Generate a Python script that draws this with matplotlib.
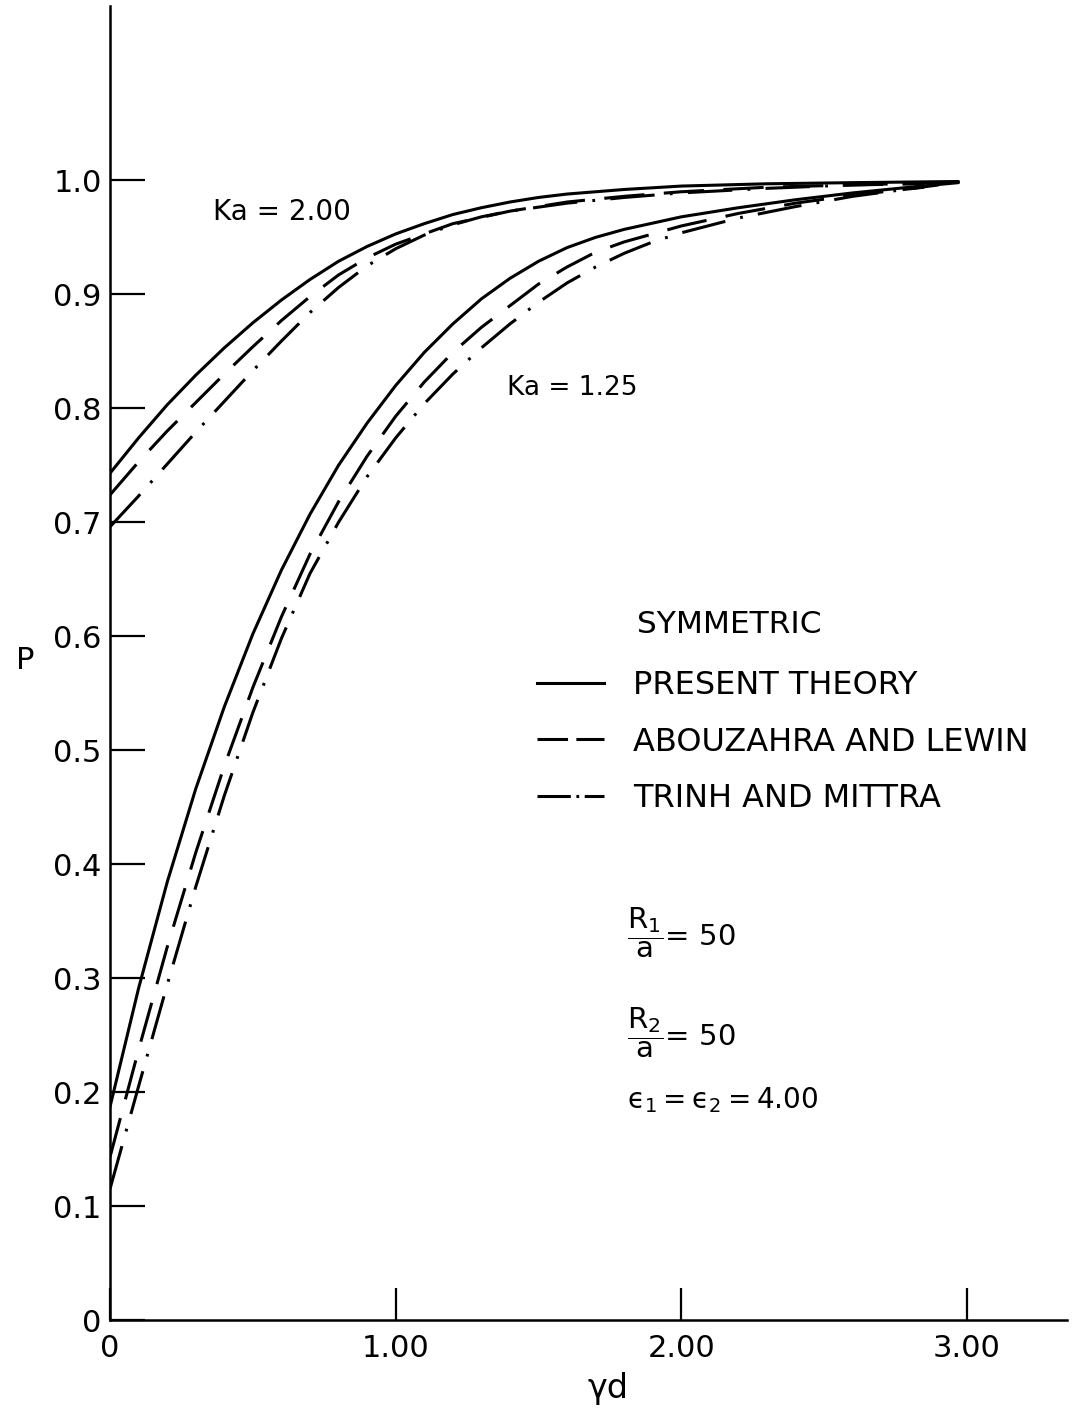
import matplotlib
matplotlib.use("Agg")
import matplotlib.pyplot as plt
from matplotlib.lines import Line2D

plt.rcParams['font.family'] = ['DejaVu Sans']
plt.rcParams['mathtext.fontset'] = 'dejavusans'
plt.rcParams['mathtext.default'] = 'regular'
plt.rcParams['lines.scale_dashes'] = False

# Ka = 2.00 curves
ka2_x_present = [0, 0.1, 0.2, 0.3, 0.4, 0.5, 0.6, 0.7, 0.8, 0.9, 1.0, 1.1, 1.2, 1.3, 1.4, 1.5, 1.6, 1.8, 2.0, 2.3, 2.6, 2.97]
ka2_p_present = [0.743, 0.774, 0.803, 0.829, 0.853, 0.875, 0.895, 0.913, 0.929, 0.942, 0.953, 0.962, 0.970, 0.976,
                 0.981, 0.985, 0.988, 0.992, 0.995, 0.997, 0.998, 0.999]
ka2_x_abou = [0, 0.1, 0.2, 0.3, 0.4, 0.5, 0.6, 0.7, 0.8, 0.9, 1.0, 1.2, 1.4, 1.6, 1.8, 2.0, 2.3, 2.6, 2.85]
ka2_p_abou = [0.724, 0.753, 0.780, 0.805, 0.830, 0.854, 0.877, 0.898, 0.917, 0.932, 0.944, 0.962, 0.973, 0.981,
              0.986, 0.990, 0.994, 0.996, 0.997]
ka2_x_trinh = [0, 0.1, 0.2, 0.3, 0.4, 0.5, 0.6, 0.7, 0.8, 0.9, 1.0, 1.1, 1.2, 1.3, 1.4, 1.6, 1.8, 2.0, 2.3, 2.6, 2.9]
ka2_p_trinh = [0.696, 0.723, 0.751, 0.779, 0.806, 0.833, 0.859, 0.884, 0.906, 0.925, 0.940, 0.952, 0.961, 0.968,
               0.973, 0.980, 0.985, 0.989, 0.993, 0.996, 0.998]

# Ka = 1.25 curves
ka125_x_present = [0, 0.1, 0.2, 0.3, 0.4, 0.5, 0.6, 0.7, 0.8, 0.9, 1.0, 1.1, 1.2, 1.3, 1.4, 1.5, 1.6, 1.7, 1.8,
                   2.0, 2.2, 2.4, 2.6, 2.8, 2.97]
ka125_p_present = [0.187, 0.291, 0.384, 0.466, 0.538, 0.602, 0.658, 0.707, 0.750, 0.787, 0.820, 0.849, 0.874,
                   0.896, 0.914, 0.929, 0.941, 0.950, 0.957, 0.968, 0.976, 0.983, 0.989, 0.994, 0.998]
ka125_x_abou = [0, 0.1, 0.2, 0.3, 0.4, 0.5, 0.6, 0.7, 0.8, 0.9, 1.0, 1.1, 1.2, 1.3, 1.4, 1.5, 1.6, 1.7, 1.8,
                2.0, 2.2, 2.4, 2.6, 2.85]
ka125_p_abou = [0.143, 0.237, 0.327, 0.410, 0.486, 0.555, 0.617, 0.672, 0.718, 0.758, 0.793, 0.823, 0.849,
                0.871, 0.890, 0.909, 0.924, 0.937, 0.946, 0.960, 0.971, 0.980, 0.987, 0.994]
ka125_x_trinh = [0, 0.1, 0.2, 0.3, 0.4, 0.5, 0.6, 0.7, 0.8, 0.9, 1.0, 1.1, 1.2, 1.3, 1.4, 1.5, 1.6, 1.7, 1.8,
                 1.9, 2.0, 2.2, 2.4, 2.6, 2.75, 2.9]
ka125_p_trinh = [0.115, 0.205, 0.294, 0.380, 0.460, 0.533, 0.598, 0.655, 0.700, 0.740, 0.774, 0.804, 0.830,
                 0.853, 0.874, 0.893, 0.910, 0.924, 0.936, 0.946, 0.954, 0.967, 0.977, 0.986, 0.991, 0.996]

y_ticks = [0, 0.1, 0.2, 0.3, 0.4, 0.5, 0.6, 0.7, 0.8, 0.9, 1.0]
y_tick_labels = ["0", "0.1", "0.2", "0.3", "0.4", "0.5", "0.6", "0.7", "0.8", "0.9", "1.0"]
x_ticks = [0, 1, 2, 3]
x_tick_labels = ["0", "1.00", "2.00", "3.00"]
legend_labels = ["PRESENT THEORY", "ABOUZAHRA AND LEWIN", "TRINH AND MITTRA"]

lw = 2.2
dash_abou = (29, 14)
dash_trinh = (32, 11, 2, 11)

fig = plt.figure(figsize=(10.77, 14.11), dpi=100)
ax = fig.add_axes([110/1077, 1 - 1320/1411, 957/1077, 1314/1411])

for xs, ps in [(ka2_x_present, ka2_p_present), (ka125_x_present, ka125_p_present)]:
    ax.plot(xs, ps, color='black', lw=lw, solid_capstyle='round', solid_joinstyle='round')
for xs, ps in [(ka2_x_abou, ka2_p_abou), (ka125_x_abou, ka125_p_abou)]:
    ax.plot(xs, ps, color='black', lw=lw, dashes=dash_abou)
for xs, ps in [(ka2_x_trinh, ka2_p_trinh), (ka125_x_trinh, ka125_p_trinh)]:
    ax.plot(xs, ps, color='black', lw=lw, dashes=dash_trinh)

ax.set_xlim(0, 3.35)
ax.set_ylim(0, 1.153)
ax.spines['top'].set_visible(False)
ax.spines['right'].set_visible(False)
ax.spines['left'].set_linewidth(1.8)
ax.spines['bottom'].set_linewidth(1.8)

ax.set_yticks(y_ticks)
ax.set_yticklabels(y_tick_labels)
ax.set_xticks(x_ticks)
ax.set_xticklabels(x_tick_labels)
ax.tick_params(axis='y', direction='in', length=25, width=1.6, pad=6, labelsize=22)
ax.tick_params(axis='x', direction='in', length=23, width=1.6, pad=10, labelsize=22)

ax.set_ylabel("P", rotation=0, fontsize=22, va='center', ha='center')
ax.yaxis.set_label_coords(-0.089, 0.502)
ax.set_xlabel("γd", fontsize=24, va='center', ha='center')
ax.xaxis.set_label_coords(0.52, -0.052)

ax.text(0.36, 0.972, "Ka = 2.00", fontsize=20, va='center', ha='left')
ax.text(1.39, 0.8175, "Ka = 1.25", fontsize=19, va='center', ha='left')
ax.text(1.845, 0.61, "SYMMETRIC", fontsize=22.5, va='center', ha='left')

ax.text(1.81, 0.340, r"$\dfrac{R_1}{a}$= 50", fontsize=21, va='center', ha='left')
ax.text(1.81, 0.2526, r"$\dfrac{R_2}{a}$= 50", fontsize=21, va='center', ha='left')
ax.text(1.81, 0.193, r"$ϵ_1 = ϵ_2 = 4.00$", fontsize=20, va='center', ha='left')

# legend samples drawn with shorter dashes, as in the original key
handles = [
    Line2D([], [], color='black', lw=lw),
    Line2D([], [], color='black', lw=lw, dashes=(22, 6)),
    Line2D([], [], color='black', lw=lw, dashes=(24, 4, 2, 4)),
]
fig.legend(handles, legend_labels, loc='upper left', bbox_to_anchor=(537/1077, 1 - 670/1411),
           frameon=False, fontsize=23, handlelength=2.1, handletextpad=0.9,
           labelspacing=0.8, borderpad=0, borderaxespad=0)

fig.savefig("out.png", dpi=100, facecolor='white')
